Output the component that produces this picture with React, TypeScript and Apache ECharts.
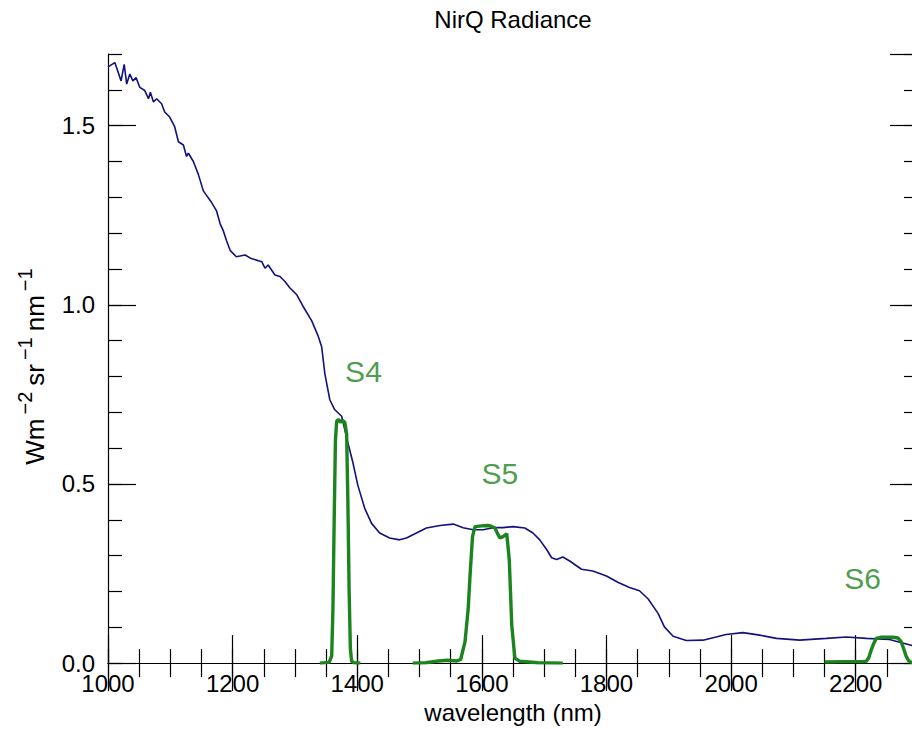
import React, { useEffect, useRef } from "react";
import * as echarts from "echarts";

// Radiance spectrum (blue), wavelength in nm
const radWl = [1000,1011,1021,1026,1030,1035,1040,1045,1051,1059,1065,1068,1073,1078,1086,1091,1099,1107,1113,1121,1126,1129,1137,1145,1153,1166,1174,1180,1185,1190,1196,1206,1220,1230,1247,1252,1257,1268,1276,1284,1292,1303,1313,1327,1337,1343,1348,1356,1364,1375,1385,1393,1401,1412,1423,1436,1452,1468,1479,1495,1511,1533,1554,1570,1586,1602,1618,1634,1650,1669,1682,1693,1704,1712,1720,1730,1741,1760,1778,1800,1819,1837,1853,1867,1883,1893,1907,1928,1955,1976,1992,2019,2046,2073,2110,2153,2185,2217,2254,2289,2300];
const radVal = [1.664,1.676,1.625,1.671,1.616,1.644,1.625,1.634,1.607,1.598,1.575,1.593,1.566,1.575,1.561,1.538,1.524,1.497,1.455,1.446,1.414,1.423,1.400,1.364,1.318,1.286,1.263,1.226,1.207,1.180,1.152,1.134,1.139,1.129,1.120,1.102,1.111,1.083,1.079,1.065,1.047,1.028,0.996,0.955,0.914,0.882,0.808,0.735,0.707,0.689,0.615,0.560,0.496,0.432,0.390,0.363,0.349,0.344,0.349,0.363,0.377,0.384,0.388,0.378,0.372,0.372,0.378,0.378,0.381,0.377,0.363,0.344,0.317,0.294,0.289,0.296,0.285,0.262,0.257,0.243,0.225,0.211,0.202,0.179,0.138,0.101,0.075,0.063,0.064,0.073,0.080,0.085,0.078,0.069,0.064,0.069,0.073,0.069,0.066,0.050,0.045];

// Band S4
const s4Wl = [1340,1355,1359,1361,1363,1365,1367,1370,1373,1376,1380,1383,1385,1387,1389,1391,1395,1405];
const s4Val = [0,0.002,0.02,0.15,0.40,0.62,0.675,0.68,0.672,0.678,0.672,0.64,0.45,0.2,0.04,0.005,0.001,0];

// Band S5
const s5Wl = [1489,1510,1530,1545,1560,1566,1573,1578,1581,1585,1589,1600,1610,1615,1621,1625,1629,1634,1640,1644,1648,1653,1661,1690,1730];
const s5Val = [0,0.001,0.006,0.008,0.006,0.01,0.06,0.15,0.243,0.353,0.381,0.383,0.384,0.382,0.377,0.362,0.349,0.353,0.361,0.289,0.106,0.014,0.005,0.001,0];

// Band S6
const s6Wl = [2150,2180,2210,2217,2221,2225,2229,2233,2240,2250,2260,2268,2273,2277,2281,2285,2289,2300];
const s6Val = [0.003,0.004,0.004,0.005,0.015,0.037,0.055,0.069,0.072,0.072,0.072,0.070,0.060,0.04,0.019,0.007,0.002,0];

// Band labels
const bandNames = ["S4", "S5", "S6"];
const bandLabelWl = [1410, 1629, 2211];
const bandLabelVal = [0.815, 0.528, 0.235];

const FONT = "Liberation Sans, Arial, Helvetica, sans-serif";
const BLUE = "#12127f";
const GREEN = "#1c841c";

const zip = (a: number[], b: number[]) => a.map((v, i) => [v, b[i]]);

export default function App() {
  const ref = useRef<HTMLDivElement>(null);
  useEffect(() => {
    if (!ref.current) return;
    const chart = echarts.init(ref.current, null, { renderer: "svg" });
    const tickStyle = { color: "#000", width: 1.2 };
    const baseX = {
      type: "value" as const,
      min: 1000,
      max: 2300,
      splitLine: { show: false },
    };
    const baseY = {
      type: "value" as const,
      min: 0,
      max: 1.7,
      splitLine: { show: false },
    };
    chart.setOption({
      animation: false,
      backgroundColor: "#fff",
      grid: { left: 108, top: 54, width: 810, height: 616, containLabel: false },
      graphic: [
        {
          type: "text",
          x: 513,
          y: 7,
          style: {
            text: "NirQ Radiance",
            fill: "#000",
            fontSize: 24,
            fontFamily: FONT,
            textAlign: "center",
            textVerticalAlign: "top",
          },
        },
      ],
      xAxis: [
        {
          ...baseX,
          position: "bottom",
          interval: 200,
          axisLine: { show: true, lineStyle: { color: "#000", width: 1.2 } },
          axisTick: { show: true, inside: true, length: 28, lineStyle: tickStyle },
          axisLabel: {
            show: true,
            color: "#000",
            fontSize: 24,
            lineHeight: 20,
            fontFamily: FONT,
            margin: 10,
            showMaxLabel: false,
            formatter: (v: number) => (v % 200 === 0 ? String(v) : ""),
          },
          name: "wavelength (nm)",
          nameLocation: "middle",
          nameGap: 30,
          nameTextStyle: { color: "#000", fontSize: 24, fontFamily: FONT },
        },
        {
          ...baseX,
          position: "bottom",
          interval: 50,
          axisLine: { show: false },
          axisTick: { show: true, inside: true, length: 14, lineStyle: tickStyle },
          axisLabel: { show: false },
        },
        {
          ...baseX,
          position: "top",
          interval: 200,
          axisLine: { show: true, lineStyle: { color: "#000", width: 1.2 } },
          axisTick: { show: true, inside: true, length: 28, lineStyle: tickStyle },
          axisLabel: { show: false },
        },
        {
          ...baseX,
          position: "top",
          interval: 50,
          axisLine: { show: false },
          axisTick: { show: true, inside: true, length: 14, lineStyle: tickStyle },
          axisLabel: { show: false },
        },
      ],
      yAxis: [
        {
          ...baseY,
          position: "left",
          interval: 0.5,
          axisLine: { show: true, lineStyle: { color: "#000", width: 1.2 } },
          axisTick: { show: true, inside: true, length: 28, lineStyle: tickStyle },
          axisLabel: {
            show: true,
            color: "#000",
            fontSize: 24,
            lineHeight: 18,
            fontFamily: FONT,
            margin: 13,
            showMaxLabel: false,
            formatter: (v: number) => v.toFixed(1),
          },
          name: "{b|Wm}{s|−2}{b|sr}{s|−1}{b|nm}{s|−1}",
          nameLocation: "middle",
          nameGap: 60,
          nameRotate: 90,
          nameTextStyle: {
            color: "#000",
            fontFamily: FONT,
            padding: [0, 10, 0, 0],
            rich: {
              b: { fontSize: 26, lineHeight: 33, verticalAlign: "bottom", fontFamily: FONT, color: "#000" },
              s: { fontSize: 20, lineHeight: 20, verticalAlign: "top", fontFamily: FONT, color: "#000", padding: [0, 6, 0, 4] },
            },
          },
        },
        {
          ...baseY,
          position: "left",
          interval: 0.1,
          axisLine: { show: false },
          axisTick: { show: true, inside: true, length: 14, lineStyle: tickStyle },
          axisLabel: { show: false },
        },
        {
          ...baseY,
          position: "right",
          interval: 0.5,
          axisLine: { show: true, lineStyle: { color: "#000", width: 1.2 } },
          axisTick: { show: true, inside: true, length: 28, lineStyle: tickStyle },
          axisLabel: { show: false },
        },
        {
          ...baseY,
          position: "right",
          interval: 0.1,
          axisLine: { show: false },
          axisTick: { show: true, inside: true, length: 14, lineStyle: tickStyle },
          axisLabel: { show: false },
        },
      ],
      series: [
        {
          name: "Radiance",
          type: "line",
          data: zip(radWl, radVal),
          showSymbol: false,
          lineStyle: { color: BLUE, width: 1.6 },
          z: 2,
        },
        {
          name: "S4",
          type: "line",
          data: zip(s4Wl, s4Val),
          showSymbol: false,
          lineStyle: { color: GREEN, width: 3.4 },
          z: 3,
        },
        {
          name: "S5",
          type: "line",
          data: zip(s5Wl, s5Val),
          showSymbol: false,
          lineStyle: { color: GREEN, width: 3.4 },
          z: 3,
        },
        {
          name: "S6",
          type: "line",
          data: zip(s6Wl, s6Val),
          showSymbol: false,
          lineStyle: { color: GREEN, width: 3.4 },
          z: 3,
        },
        {
          name: "labels",
          type: "scatter",
          symbolSize: 0,
          data: bandNames.map((n, i) => [bandLabelWl[i], bandLabelVal[i], n]),
          label: {
            show: true,
            position: "inside",
            formatter: (p: any) => p.data[2],
            color: GREEN,
            fontSize: 30,
            fontFamily: FONT,
          },
          z: 4,
        },
      ],
    });
    return () => chart.dispose();
  }, []);
  return (
    <div
      style={{
        position: "absolute",
        left: 0,
        top: 0,
        width: 912,
        height: 729,
        overflow: "hidden",
        background: "#fff",
      }}
    >
      <div ref={ref} style={{ width: 940, height: 729 }} />
    </div>
  );
}
